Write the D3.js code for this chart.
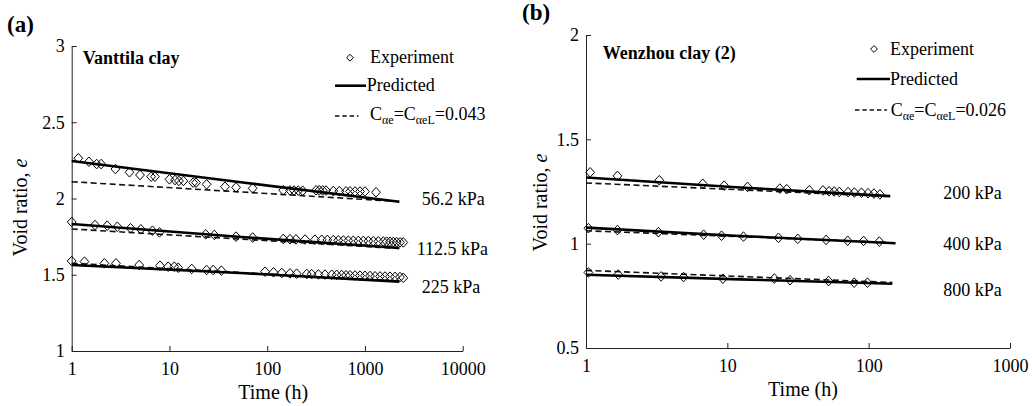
<!DOCTYPE html>
<html><head><meta charset="utf-8">
<script src="https://cdn.jsdelivr.net/npm/d3@7"></script>
<style>
body{margin:0;background:#fff}
svg{display:block}
svg text{font-family:'Liberation Serif','Times New Roman',Times,'DejaVu Serif',serif;fill:#000}
</style>
</head><body>
<svg id="c" width="1032" height="406" font-family="Liberation Serif"></svg>
<script>
// ---------- Panel (a): Vanttila clay ----------
const aXTicks = [1, 10, 100, 1000, 10000];
const aYTicks = [1, 1.5, 2, 2.5, 3];
const aLoads = ["56.2 kPa", "112.5 kPa", "225 kPa"];

const a56_t = [1.17,1.5,1.8,2.0,2.8,3.9,5.0,6.5,7.1,10,11.4,12.5,13.9,17.5,18.7,24,37,48,71,146,171,188,208,231,316,341,370,400,474,547,640,703,791,890,1000,1298];
const a56_e = [2.264,2.241,2.226,2.226,2.193,2.172,2.154,2.143,2.143,2.126,2.121,2.115,2.115,2.104,2.104,2.093,2.077,2.073,2.067,2.054,2.053,2.052,2.052,2.051,2.054,2.054,2.053,2.052,2.049,2.048,2.047,2.047,2.046,2.046,2.046,2.041];
const a112_t = [1.0,1.73,2.31,2.93,4.0,5.1,6.7,7.9,23.5,28.8,48,71,146,171,197,244,308,361,412,474,534,601,676,760,855,962,1082,1218,1370,1541,1668,1804,1951,2112,2284,2468];
const a112_e = [1.846,1.826,1.822,1.815,1.805,1.798,1.789,1.778,1.765,1.761,1.750,1.744,1.735,1.733,1.732,1.731,1.730,1.729,1.728,1.727,1.726,1.725,1.724,1.723,1.722,1.722,1.721,1.720,1.719,1.718,1.717,1.716,1.715,1.714,1.713,1.712];
const a225_t = [1.0,1.35,2.16,2.84,4.9,8.0,9.7,11.2,12.3,16.9,24,28,34,95,116,141,171,200,254,285,334,390,457,514,578,640,703,791,890,1000,1127,1268,1426,1604,1804,2029,2284,2468];
const a225_e = [1.590,1.586,1.575,1.575,1.564,1.559,1.553,1.553,1.546,1.538,1.531,1.531,1.527,1.520,1.516,1.512,1.509,1.507,1.505,1.504,1.502,1.501,1.500,1.499,1.498,1.497,1.496,1.495,1.494,1.493,1.492,1.490,1.489,1.488,1.487,1.486,1.485,1.480];

const aPred_t = [1, 59, 2245];
const aPred56_e = [2.246, 2.103, 1.979];
const aPred112_e = [1.833, 1.746, 1.675];
const aPred225_e = [1.564, 1.510, 1.455];
const aDash_t = [1, 2245];
const aDash56_e = [2.110, 1.980];
const aDash112_e = [1.800, 1.672];
const aDash225_e = [1.575, 1.458];

// ---------- Panel (b): Wenzhou clay (2) ----------
const bXTicks = [1, 10, 100, 1000];
const bYTicks = [0.5, 1, 1.5, 2];
const bLoads = ["200 kPa", "400 kPa", "800 kPa"];

const b200_t = [1.07,1.67,3.3,6.7,9.5,13.9,23.5,26.3,38,47.5,52.5,57,62,71.5,79.2,89,99,109,120];
const b200_e = [1.342,1.325,1.304,1.287,1.278,1.272,1.264,1.261,1.256,1.255,1.251,1.250,1.248,1.247,1.245,1.244,1.242,1.240,1.236];
const b400_t = [1.04,1.67,3.25,6.8,9.1,13,23,31.5,50,71,92,119];
const b400_e = [1.074,1.065,1.055,1.043,1.038,1.034,1.028,1.023,1.018,1.014,1.013,1.010];
const b800_t = [1.04,1.69,3.4,4.9,9.3,21.5,27.8,52,79,98];
const b800_e = [0.862,0.852,0.843,0.840,0.832,0.833,0.825,0.821,0.813,0.813];

const bPred200_t = [1, 12.3, 142], bPred200_e = [1.317, 1.269, 1.228];
const bPred400_t = [1, 12.3, 155], bPred400_e = [1.077, 1.037, 1.002];
const bPred800_t = [1, 12.3, 147], bPred800_e = [0.851, 0.829, 0.808];
const bDash200_t = [1, 142], bDash200_e = [1.291, 1.226];
const bDash400_t = [1, 140], bDash400_e = [1.062, 1.006];
const bDash800_t = [1, 147], bDash800_e = [0.872, 0.814];

const svg = d3.select("#c");
const FONT = "Liberation Serif";
const diamond = "M0,-4.8L4.4,0L0,4.8L-4.4,0Z";
const diamondSmall = "M0,-3.4L3.4,0L0,3.4L-3.4,0Z";

function T(sel) { return sel.attr("font-family", FONT); }

function panel(o) {
  const x = d3.scaleLog().domain([o.xTicks[0], o.xTicks[o.xTicks.length-1]]).range(o.xRange);
  const y = d3.scaleLinear().domain([o.yTicks[0], o.yTicks[o.yTicks.length-1]]).range(o.yRange);
  const g = svg.append("g").attr("font-family", FONT);

  const xa = g.append("g").attr("transform", `translate(0,${o.yRange[0]})`)
    .call(d3.axisBottom(x).tickValues(o.xTicks).tickFormat(d => String(d))
      .tickSizeInner(-5).tickSizeOuter(0).tickPadding(11));
  const ya = g.append("g").attr("transform", `translate(${o.xRange[0]},0)`)
    .call(d3.axisLeft(y).tickValues(o.yTicks).tickFormat(d => String(d))
      .tickSizeInner(-5).tickSizeOuter(0).tickPadding(7));
  [xa, ya].forEach(a => {
    a.attr("font-family", FONT).attr("font-size", 18);
    a.selectAll("text").attr("font-family", FONT);
    a.selectAll("path,line").attr("stroke", "#222").attr("stroke-width", 1);
  });

  const line = d3.line().x(d => x(d[0])).y(d => y(d[1]));
  o.dashed.forEach(s => {
    g.append("path").attr("d", line(d3.zip(s[0], s[1])))
      .attr("fill", "none").attr("stroke", "#111").attr("stroke-width", 1.6)
      .attr("stroke-dasharray", "6,3.5");
  });
  o.pred.forEach(s => {
    g.append("path").attr("d", line(d3.zip(s[0], s[1])))
      .attr("fill", "none").attr("stroke", "#000").attr("stroke-width", 2.6);
  });
  o.exp.forEach(s => {
    g.append("g").selectAll("path").data(d3.zip(s[0], s[1])).join("path")
      .attr("d", diamond)
      .attr("transform", d => `translate(${x(d[0])},${y(d[1])})`)
      .attr("fill", "none").attr("stroke", "#000").attr("stroke-width", 1);
  });

  o.loads.forEach((t, i) => {
    T(g.append("text")).attr("x", o.loadPos[i][0]).attr("y", o.loadPos[i][1])
      .attr("font-size", 18).text(t);
  });

  T(g.append("text")).attr("x", (o.xRange[0] + o.xRange[1]) / 2 + o.xTitleDx).attr("y", o.xTitleY)
    .attr("text-anchor", "middle").attr("font-size", 20).text("Time (h)");
  const yt = T(g.append("text"))
    .attr("transform", `translate(${o.yTitle[0]},${o.yTitle[1]}) rotate(-90)`)
    .attr("text-anchor", "middle").attr("font-size", 20);
  yt.append("tspan").text("Void ratio, ");
  yt.append("tspan").attr("font-style", "italic").text("e");

  T(g.append("text")).attr("x", o.clay[0]).attr("y", o.clay[1]).attr("font-size", 18)
    .attr("font-weight", "bold").text(o.clayName);
  T(g.append("text")).attr("x", o.tag[0]).attr("y", o.tag[1]).attr("font-size", 23)
    .attr("font-weight", "bold").text(o.tagText);

  const L = o.legend;
  g.append("path").attr("d", diamondSmall).attr("transform", `translate(${L.dia[0]},${L.dia[1]})`)
    .attr("fill", "none").attr("stroke", "#000").attr("stroke-width", 1);
  T(g.append("text")).attr("x", L.exp[0]).attr("y", L.exp[1]).attr("font-size", 18).text("Experiment");
  g.append("line").attr("x1", L.sol[0]).attr("x2", L.sol[1]).attr("y1", L.sol[2]).attr("y2", L.sol[2])
    .attr("stroke", "#000").attr("stroke-width", 2.6);
  T(g.append("text")).attr("x", L.pre[0]).attr("y", L.pre[1]).attr("font-size", 18).text("Predicted");
  g.append("line").attr("x1", L.das[0]).attr("x2", L.das[1]).attr("y1", L.das[2]).attr("y2", L.das[2])
    .attr("stroke", "#111").attr("stroke-width", 1.6).attr("stroke-dasharray", "4.5,2.8");
  const c = T(g.append("text")).attr("x", L.c[0]).attr("y", L.c[1]).attr("font-size", 18);
  c.append("tspan").text("C");
  c.append("tspan").attr("font-size", 12).attr("dy", 4).text("αe");
  c.append("tspan").attr("dy", -4).text("=C");
  c.append("tspan").attr("font-size", 12).attr("dy", 4).text("αeL");
  c.append("tspan").attr("dy", -4).text("=" + o.cValue);
}

panel({
  xTicks: aXTicks, yTicks: aYTicks, xRange: [71.7, 462.7], yRange: [351, 46],
  exp: [[a56_t, a56_e], [a112_t, a112_e], [a225_t, a225_e]],
  pred: [[aPred_t, aPred56_e], [aPred_t, aPred112_e], [aPred_t, aPred225_e]],
  dashed: [[aDash_t, aDash56_e], [aDash_t, aDash112_e], [aDash_t, aDash225_e]],
  loads: aLoads, loadPos: [[421.7, 204.5], [416.7, 254.5], [421.7, 292.5]],
  xTitleDx: 6, xTitleY: 399, yTitle: [27, 207.5],
  clay: [82.7, 64], clayName: "Vanttila clay", tag: [7, 32], tagText: "(a)",
  cValue: "0.043",
  legend: { dia: [350, 57.7], exp: [370, 62.5], sol: [335, 366, 85.7], pre: [366.7, 90.7],
            das: [335, 358.5, 116], c: [370, 120] }
});

panel({
  xTicks: bXTicks, yTicks: bYTicks, xRange: [586, 1010], yRange: [348, 35],
  exp: [[b200_t, b200_e], [b400_t, b400_e], [b800_t, b800_e]],
  pred: [[bPred200_t, bPred200_e], [bPred400_t, bPred400_e], [bPred800_t, bPred800_e]],
  dashed: [[bDash200_t, bDash200_e], [bDash400_t, bDash400_e], [bDash800_t, bDash800_e]],
  loads: bLoads, loadPos: [[943.3, 199], [943.3, 249.5], [943.3, 295.5]],
  xTitleDx: 5, xTitleY: 396, yTitle: [547, 202.5],
  clay: [602.7, 59], clayName: "Wenzhou clay (2)", tag: [522, 20], tagText: "(b)",
  cValue: "0.026",
  legend: { dia: [874, 49], exp: [890, 55], sol: [856.7, 890, 79], pre: [890, 85],
            das: [855, 887, 110], c: [890.7, 115.7] }
});
</script>
</body></html>
